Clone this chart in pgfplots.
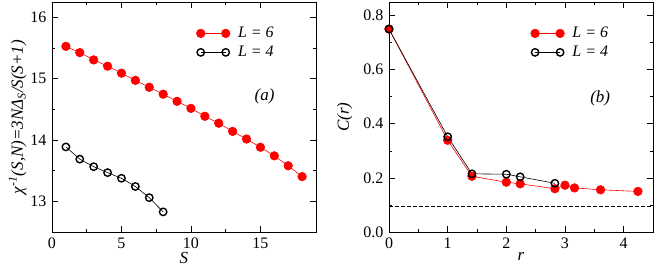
\documentclass[border=0pt]{standalone}
\usepackage{fontspec}
\setmainfont{Liberation Serif}
\usepackage{pgfplots}
\pgfplotsset{compat=1.18}
\begin{document}
\fontsize{16}{18}\selectfont
\begin{tikzpicture}
\useasboundingbox (-52pt,-36pt) rectangle (602pt,232pt);
\pgfplotsset{
 every axis/.append style={
  scale only axis, width=264pt, height=230pt,
  tick align=inside, major tick length=6pt, minor tick length=3pt,
  axis line style={line width=0.8pt}, every tick/.style={black, line width=0.6pt},
  /pgf/number format/assume math mode=true,
  xticklabel={\pgfmathprintnumber{\tick}},
  tick label style={font=\rmfamily\fontsize{16}{18}\selectfont},
  label style={font=\fontsize{17}{18}\selectfont\itshape},
  legend style={draw=none, fill=none, font=\fontsize{16}{18}\selectfont\itshape, row sep=2pt, anchor=north west},
  legend cell align=left,
  legend image code/.code={\draw plot coordinates {(0pt,0pt) (25pt,0pt)};},
  clip=false,
 },
 redl/.style={red, line width=0.6pt, mark=*, mark size=4.3pt, mark options={fill=red, draw=red}},
 blkl/.style={black, line width=0.6pt, mark=o, mark size=3.7pt, mark options={line width=1.4pt}},
}
\begin{axis}[at={(0pt,0pt)}, anchor=south west,
  xmin=0, xmax=19, ymin=12.5, ymax=16.25,
  xtick={0,5,10,15}, minor x tick num=1,
  ytick={13,14,15,16}, minor y tick num=1,
  yticklabel={\pgfmathprintnumber{\tick}},
  xlabel={S},
  xlabel style={yshift=7pt},
  legend style={at={(0.535,0.91)}},
]
\addplot[redl] coordinates {
(1,15.527)(2,15.425)(3,15.306)(4,15.204)(5,15.09)(6,14.973)(7,14.86)(8,14.747)(9,14.63)
(10,14.516)(11,14.387)(12,14.274)(13,14.14)(14,14.016)(15,13.882)(16,13.742)(17,13.58)(18,13.403)};
\addlegendentry{\hspace{6pt}L = 6}
\addplot[blkl] coordinates {
(1,13.887)(2,13.688)(3,13.565)(4,13.468)(5,13.376)(6,13.242)(7,13.06)(8,12.828)};
\addlegendentry{\hspace{6pt}L = 4}
\node[font=\fontsize{17}{18}\selectfont\itshape] at (axis cs:15.3,14.71) {(a)};
\node[font=\fontsize{17}{18}\selectfont\itshape, rotate=90, anchor=center, inner sep=0pt] at (rel axis cs:-0.13,0.5) {χ\textsuperscript{-1}(S,N)=3NΔ\textsubscript{S}/S(S+1)};
\end{axis}
\begin{axis}[at={(337pt,0pt)}, anchor=south west,
  xmin=0, xmax=4.5, ymin=0, ymax=0.85,
  xtick={0,1,2,3,4}, minor x tick num=1,
  ytick={0,0.2,0.4,0.6,0.8}, minor y tick num=1,
  yticklabel={\pgfmathprintnumber[fixed, fixed zerofill, precision=1]{\tick}},
  xlabel={r}, ylabel={C(r)},
  xlabel style={yshift=7pt},
  legend style={at={(0.525,0.91)}},
]
\addplot[redl] coordinates {
(0,0.75)(1,0.339)(1.414,0.206)(2,0.184)(2.236,0.178)(2.828,0.16)(3,0.173)(3.162,0.163)(3.606,0.156)(4.243,0.150)};
\addlegendentry{\hspace{6pt}L = 6}
\addplot[blkl] coordinates {
(0,0.75)(1,0.352)(1.414,0.215)(2,0.2135)(2.236,0.204)(2.828,0.18)};
\addlegendentry{\hspace{6pt}L = 4}
\addplot[black, dash pattern=on 4pt off 2pt, line width=0.6pt, forget plot] coordinates {(0,0.094)(4.5,0.094)};
\node[font=\fontsize{17}{18}\selectfont\itshape] at (axis cs:3.6,0.493) {(b)};
\end{axis}
\end{tikzpicture}
\end{document}
